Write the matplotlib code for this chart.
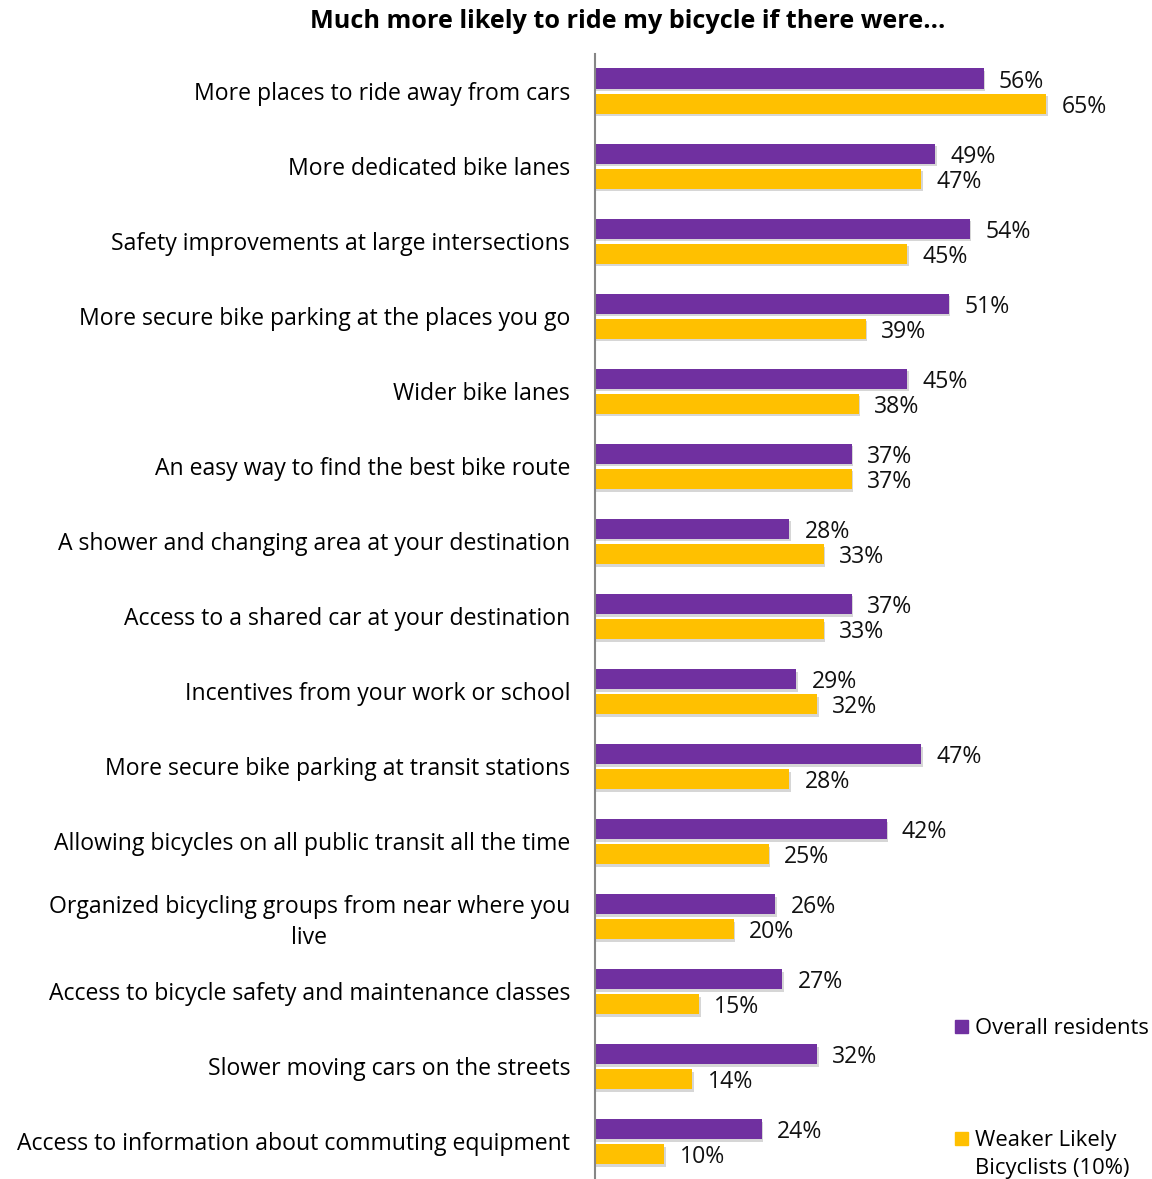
import matplotlib.pyplot as plt
import matplotlib.patheffects as pe
from matplotlib.patches import Rectangle
import numpy as np

plt.rcParams["font.family"] = ["Open Sans", "DejaVu Sans"]

categories = [
    "More places to ride away from cars",
    "More dedicated bike lanes",
    "Safety improvements at large intersections",
    "More secure bike parking at the places you go",
    "Wider bike lanes",
    "An easy way to find the best bike route",
    "A shower and changing area at your destination",
    "Access to a shared car at your destination",
    "Incentives from your work or school",
    "More secure bike parking at transit stations",
    "Allowing bicycles on all public transit all the time",
    "Organized bicycling groups from near where you\nlive",
    "Access to bicycle safety and maintenance classes",
    "Slower moving cars on the streets",
    "Access to information about commuting equipment",
]
overall = [56, 49, 54, 51, 45, 37, 28, 37, 29, 47, 42, 26, 27, 32, 24]
weaker = [65, 47, 45, 39, 38, 37, 33, 33, 32, 28, 25, 20, 15, 14, 10]
series_names = ["Overall residents", "Weaker Likely\nBicyclists (10%)"]

PURPLE = "#7030A0"
GOLD = "#FFC000"
FS = 16.6

fig = plt.figure(figsize=(11.52, 11.79), dpi=100)
ax = fig.add_axes([0.5165, 0.0, 0.47, 0.9546])

y = np.arange(len(categories))
bh = 0.267
shadow = [pe.SimplePatchShadow(offset=(1, -2), shadow_rgbFace="#999999", alpha=0.4), pe.Normal()]

b1 = ax.barh(y - 0.167, overall, height=bh, color=PURPLE)
b2 = ax.barh(y + 0.167, weaker, height=bh, color=GOLD)
for bars in (b1, b2):
    for p in bars:
        p.set_path_effects(shadow)

for yi, v in zip(y - 0.167, overall):
    ax.annotate(f"{v}%", (v, yi), xytext=(11, -2.5), textcoords="offset points",
                va="center", ha="left", fontsize=FS, color="#111111")
for yi, v in zip(y + 0.167, weaker):
    ax.annotate(f"{v}%", (v, yi), xytext=(11, -2.5), textcoords="offset points",
                va="center", ha="left", fontsize=FS, color="#111111")

ax.set_xlim(0, 78)
ax.set_ylim(len(categories) - 0.5, -0.5)
ax.set_yticks(y)
ax.set_yticklabels(categories, fontsize=FS, multialignment="center", linespacing=1.35)
ax.tick_params(axis="y", length=0, pad=18)
ax.set_xticks([])
for s in ["top", "right", "bottom"]:
    ax.spines[s].set_visible(False)
ax.spines["left"].set_color("#868686")
ax.spines["left"].set_linewidth(1.5)

fig.text(0.545, 0.9815, "Much more likely to ride my bicycle if there were...",
         ha="center", va="center", fontsize=18.2, fontweight="bold")

# legend drawn by hand so the two entries sit far apart
legend_items = [(series_names[0], PURPLE, 1027), (series_names[1], GOLD, 1139)]
for name, col, ypx in legend_items:
    fy = 1 - ypx / 1179
    fig.patches.append(Rectangle((955 / 1152, fy - 6 / 1179), 13 / 1152, 13 / 1179,
                                 transform=fig.transFigure, color=col))
    fig.text(975 / 1152, fy + 9 / 1179, name, ha="left", va="top",
             fontsize=15.8, linespacing=1.45)

fig.savefig("out.png", dpi=100)
